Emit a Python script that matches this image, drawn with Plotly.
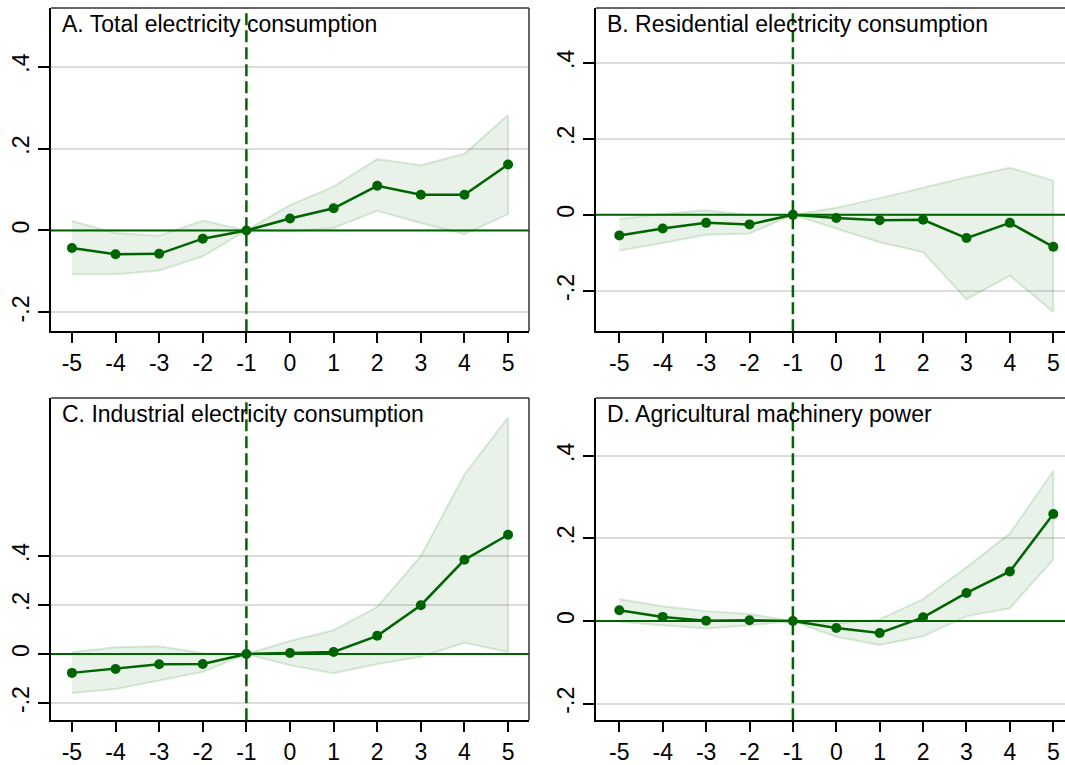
import plotly.graph_objects as go

periods = [-5, -4, -3, -2, -1, 0, 1, 2, 3, 4, 5]

titles = ["A. Total electricity consumption",
          "B. Residential electricity consumption",
          "C. Industrial electricity consumption",
          "D. Agricultural machinery power"]

a_coef = [-0.043, -0.058, -0.057, -0.020, 0.0, 0.029, 0.054, 0.109, 0.087, 0.087, 0.161]
a_hi = [0.023, -0.006, -0.013, 0.024, 0.0, 0.062, 0.107, 0.174, 0.159, 0.187, 0.282]
a_lo = [-0.107, -0.107, -0.098, -0.063, 0.0, -0.002, 0.006, 0.048, 0.018, -0.009, 0.040]

b_coef = [-0.054, -0.036, -0.021, -0.025, 0.0, -0.008, -0.014, -0.013, -0.061, -0.021, -0.084]
b_hi = [-0.011, 0.002, 0.012, -0.001, 0.0, 0.019, 0.044, 0.072, 0.099, 0.124, 0.090]
b_lo = [-0.094, -0.074, -0.052, -0.049, 0.0, -0.035, -0.072, -0.098, -0.222, -0.160, -0.255]

c_coef = [-0.077, -0.061, -0.042, -0.041, 0.0, 0.004, 0.008, 0.074, 0.199, 0.384, 0.486]
c_hi = [0.007, 0.027, 0.032, 0.003, 0.0, 0.053, 0.097, 0.192, 0.399, 0.732, 0.965]
c_lo = [-0.159, -0.143, -0.109, -0.073, 0.0, -0.046, -0.078, -0.041, -0.011, 0.046, 0.008]

d_coef = [0.026, 0.010, 0.001, 0.002, 0.0, -0.017, -0.029, 0.009, 0.068, 0.120, 0.259]
d_hi = [0.053, 0.036, 0.024, 0.017, 0.0, -0.006, 0.004, 0.053, 0.130, 0.212, 0.363]
d_lo = [-0.002, -0.010, -0.018, -0.010, 0.0, -0.038, -0.058, -0.037, 0.012, 0.031, 0.149]

ytick_vals = [-0.2, 0, 0.2, 0.4]
ytick_text = ["-.2", "0", ".2", ".4"]

W, H = 1065, 765
GREEN = "#006400"
FONT = "Liberation Sans, Arial, Helvetica, sans-serif"

panels = [
    dict(coef=a_coef, hi=a_hi, lo=a_lo, px=(51, 529), py=(8, 333), xr=[-5.48, 5.48], yr=[-0.246, 0.543], right=True),
    dict(coef=b_coef, hi=b_hi, lo=b_lo, px=(596, 1065), py=(8, 333), xr=[-5.537, 5.27], yr=[-0.306, 0.544], right=False),
    dict(coef=c_coef, hi=c_hi, lo=c_lo, px=(51, 529), py=(400, 724), xr=[-5.48, 5.48], yr=[-0.27, 1.044], right=True),
    dict(coef=d_coef, hi=d_hi, lo=d_lo, px=(596, 1065), py=(400, 724), xr=[-5.537, 5.27], yr=[-0.24, 0.54], right=False),
]

fig = go.Figure()
shapes = []
annotations = []

for i, p in enumerate(panels):
    n = i + 1
    xa = "x" if n == 1 else f"x{n}"
    ya = "y" if n == 1 else f"y{n}"
    # confidence band
    fig.add_trace(go.Scatter(
        x=periods + periods[::-1], y=p["hi"] + p["lo"][::-1],
        xaxis=xa, yaxis=ya, mode="lines", fill="toself",
        fillcolor="rgba(0,110,0,0.09)",
        line=dict(color="rgba(0,110,0,0.14)", width=2),
        hoverinfo="skip", showlegend=False))
    # coefficients
    fig.add_trace(go.Scatter(
        x=periods, y=p["coef"], xaxis=xa, yaxis=ya, mode="lines+markers",
        line=dict(color=GREEN, width=2.5), marker=dict(color=GREEN, size=10),
        showlegend=False))

    x0, x1 = p["px"]
    y0, y1 = p["py"]
    xkey = "xaxis" if n == 1 else f"xaxis{n}"
    ykey = "yaxis" if n == 1 else f"yaxis{n}"
    fig.layout[xkey] = dict(
        domain=[x0 / W, x1 / W], range=p["xr"], anchor=ya,
        tickvals=periods, ticktext=[str(v) for v in periods],
        ticks="outside", ticklen=10, tickwidth=2, tickcolor="black",
        showline=True, linecolor="black", linewidth=2,
        showgrid=False, zeroline=False,
        tickfont=dict(family=FONT, size=23, color="black"), fixedrange=True)
    fig.layout[ykey] = dict(
        domain=[1 - y1 / H, 1 - y0 / H], range=p["yr"], anchor=xa,
        tickvals=ytick_vals, ticktext=ytick_text, tickangle=-90,
        ticks="outside", ticklen=11, tickwidth=2, tickcolor="black",
        showline=True, linecolor="black", linewidth=2,
        showgrid=True, gridcolor="#DCDCDC", gridwidth=2, zeroline=False,
        tickfont=dict(family=FONT, size=23, color="black"), fixedrange=True)

    dref_x = f"{xa} domain"
    dref_y = f"{ya} domain"
    # zero line
    shapes.append(dict(type="line", xref=dref_x, yref=ya, x0=0, x1=1, y0=0, y1=0,
                       line=dict(color=GREEN, width=2), layer="above"))
    # event line
    shapes.append(dict(type="line", xref=xa, yref=dref_y, x0=-1, x1=-1, y0=0, y1=1,
                       line=dict(color=GREEN, width=2.5, dash="12px,5px"), layer="above"))
    # top frame
    shapes.append(dict(type="line", xref=dref_x, yref=dref_y, x0=0, x1=1, y0=1, y1=1,
                       line=dict(color="#333333", width=1.5), layer="above"))
    if p["right"]:
        shapes.append(dict(type="line", xref=dref_x, yref=dref_y, x0=1, x1=1, y0=0, y1=1,
                           line=dict(color="#333333", width=1.5), layer="above"))
    annotations.append(dict(text=titles[i], xref=dref_x, yref=dref_y, x=0, y=1,
                            xanchor="left", yanchor="top", xshift=9, yshift=-1,
                            showarrow=False,
                            font=dict(family=FONT, size=23, color="black")))

fig.update_layout(
    width=W, height=H, margin=dict(l=0, r=0, t=0, b=0),
    paper_bgcolor="white", plot_bgcolor="white",
    shapes=shapes, annotations=annotations, showlegend=False)

fig.write_html("out.html")
